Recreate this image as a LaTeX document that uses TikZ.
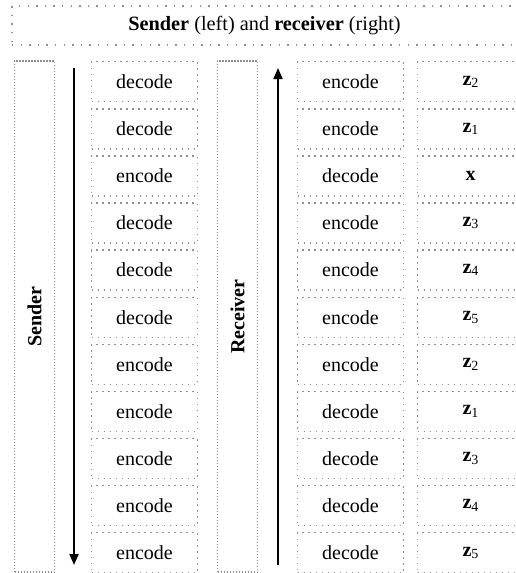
\documentclass[tikz,border=0pt]{standalone}
\usepackage{fontspec}
\setmainfont{Liberation Serif}
\usetikzlibrary{arrows.meta}
\definecolor{dotgray}{RGB}{145,145,145}
\newcommand\zlab[1]{\textbf{z}{\fontsize{14}{14}\selectfont\raisebox{-2.5pt}{#1}}}
\begin{document}
\begin{tikzpicture}[x=1pt,y=-1pt,
  dotbox/.style={draw=dotgray, line width=1.4pt, inner sep=0pt},
  cell/.style={dotbox, dash pattern=on 1.4pt off 4.6pt, minimum width=106pt, minimum height=40pt, font=\fontsize{20}{23}\selectfont},
  tallbox/.style={dotbox, dash pattern=on 1.4pt off 1.6pt, minimum width=40pt, minimum height=511pt},
  titlebox/.style={dotbox, dash pattern=on 1.4pt off 7.2pt, minimum width=505pt, minimum height=39pt, font=\fontsize{20.3}{23}\selectfont},
  vlabel/.style={rotate=90, font=\fontsize{20}{23}\selectfont\bfseries},
  flow/.style={line width=2pt, -{Triangle[length=11pt,width=9pt]}}]
\clip (0,0) rectangle (515,573);
\node[titlebox] (title) at (264.5,25.5) {\textbf{Sender} (left) and \textbf{receiver} (right)};
\node[tallbox] (sender) at (34.5,316.5) {};
\node[vlabel] (sendertext) at (sender.center) {Sender};
\node[tallbox] (receiver) at (237.5,316.5) {};
\node[vlabel] (receivertext) at (receiver.center) {Receiver};
\coordinate (sa) at (74,68);
\coordinate (sb) at (74,565);
\draw[flow] (sa) -- (sb);
\coordinate (ra) at (278,565);
\coordinate (rb) at (278,68);
\draw[flow] (ra) -- (rb);
\foreach \a/\b/\c [count=\i from 0] in {
  decode/encode/\zlab{2},
  decode/encode/\zlab{1},
  encode/decode/\textbf{x},
  decode/encode/\zlab{3},
  decode/encode/\zlab{4},
  decode/encode/\zlab{5},
  encode/encode/\zlab{2},
  encode/decode/\zlab{1},
  encode/decode/\zlab{3},
  encode/decode/\zlab{4},
  encode/decode/\zlab{5}}{
  \node[cell] (a\i) at (144.5,{81.75+47.1*\i}) {\a};
  \node[cell] (b\i) at (350.5,{81.75+47.1*\i}) {\b};
  \node[cell] (c\i) at (470.5,{81.75+47.1*\i}) {\c};
}
\end{tikzpicture}
\end{document}
